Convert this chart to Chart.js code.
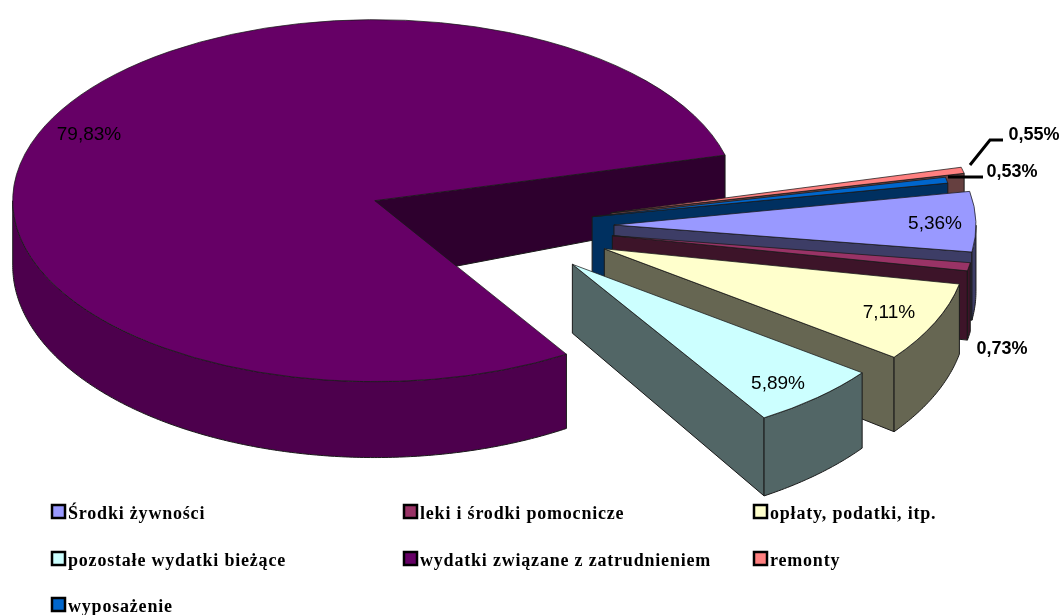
<!DOCTYPE html>
<html>
<head>
<meta charset="utf-8">
<style>
  html, body { margin: 0; padding: 0; background: #fff; }
  #wrap { position: relative; width: 1062px; height: 615px; }
</style>
</head>
<body>
<div id="wrap"><canvas id="myChart" width="1062" height="615"></canvas></div>
<script src="https://cdn.jsdelivr.net/npm/chart.js@4/dist/chart.umd.min.js"></script>
<script>
const categories = ['Środki żywności', 'leki i środki pomocnicze', 'opłaty, podatki, itp.', 'pozostałe wydatki bieżące', 'wydatki związane z zatrudnieniem', 'remonty', 'wyposażenie'];
const shares = [5.36, 0.73, 7.11, 5.89, 79.83, 0.55, 0.53];
const shareLabels = ['5,36%', '0,73%', '7,11%', '5,89%', '79,83%', '0,55%', '0,53%'];

const topColors = ['#9999ff', '#993366', '#ffffcc', '#ccffff', '#660066', '#ff8080', '#0066cc'];
const edgeColors = ['#3d3d66', '#3d1429', '#666652', '#526666', '#2e002e', '#664040', '#003060'];
const rimColors = ['#3d3d66', '#3d1429', '#666652', '#526666', '#4d004d', '#704038', '#003060'];
const explode = [112, 112, 112, 104, 137, 112, 92];

// screen spots of the percentage labels
const labelX = [935, 1002, 889, 778, 89, 1034, 1012];
const labelY = [224, 349, 313, 384, 135, 135, 172];
const labelFonts = ['19px', 'bold 18px', '19px', '19px', '19px', 'bold 18px', 'bold 18px'];
const legendX = [50, 402, 752];
const legendY = [511, 558, 604];

const squash = 0.5;
const drawOrder = [4, 5, 6, 0, 1, 2, 3];

// slices nearer the viewer look a bit taller
function down(p) {
  return { x: p.x, y: p.y + 65 + (p.y - 200) * 0.06 };
}
function rimPoint(c, r, a) {
  return { x: c.x + Math.cos(a) * r, y: c.y + Math.sin(a) * r * squash };
}
function fillPoly(ctx, pts, color) {
  ctx.beginPath();
  pts.forEach((p, i) => i ? ctx.lineTo(p.x, p.y) : ctx.moveTo(p.x, p.y));
  ctx.closePath();
  ctx.fillStyle = color;
  ctx.fill();
  ctx.stroke();
}
function drawEdge(ctx, c, r, a, color, i) {
  const p = rimPoint(c, r, a);
  // the big slice's inner wall narrows towards its rim
  if (i === 4) {
    fillPoly(ctx, [c, p, { x: p.x, y: p.y + 60 }, { x: c.x, y: c.y + 81 }], color);
  } else {
    fillPoly(ctx, [c, p, down(p), down(c)], color);
  }
}

const pieSides = {
  id: 'pieSides',
  afterDatasetsUpdate(chart) {
    // explode by moving the arcs, the offset option would also grow their radius
    chart.getDatasetMeta(0).data.forEach((arc, i) => {
      const mid = (arc.startAngle + arc.endAngle) / 2;
      arc.x += Math.cos(mid) * explode[i];
      arc.y += Math.sin(mid) * explode[i];
    });
  },
  beforeDatasetsDraw(chart) {
    const ctx = chart.ctx;
    const arcs = chart.getDatasetMeta(0).data;
    const cx = (chart.chartArea.left + chart.chartArea.right) / 2;
    const cy = (chart.chartArea.top + chart.chartArea.bottom) / 2;
    ctx.save();
    ctx.lineWidth = 1;
    ctx.strokeStyle = '#1a1a1a';
    drawOrder.forEach(i => {
      const arc = arcs[i];
      const c = { x: arc.x, y: cy + (arc.y - cy) * squash };
      const r = arc.outerRadius;
      if (Math.cos(arc.startAngle) < 0) drawEdge(ctx, c, r, arc.startAngle, edgeColors[i], i);
      if (Math.cos(arc.endAngle) > 0) drawEdge(ctx, c, r, arc.endAngle, edgeColors[i], i);
      const top = [];
      const n = Math.ceil((arc.endAngle - arc.startAngle) / 0.01);
      for (let k = 0; k <= n; k++) {
        const a = arc.startAngle + (arc.endAngle - arc.startAngle) * k / n;
        if (Math.sin(a) >= 0) top.push(rimPoint(c, r, a));
      }
      if (top.length > 1) {
        const low = top.slice().reverse().map(down);
        fillPoly(ctx, top.concat(low), rimColors[i]);
      }
    });
    ctx.restore();
    // flatten the library's own arcs into the ellipse
    ctx.save();
    ctx.translate(cx, cy);
    ctx.scale(1, squash);
    ctx.translate(-cx, -cy);
  },
  afterDatasetsDraw(chart) {
    const ctx = chart.ctx;
    ctx.restore();
    ctx.save();
    ctx.textAlign = 'center';
    ctx.textBaseline = 'middle';
    ctx.fillStyle = '#000';
    shareLabels.forEach((t, i) => {
      ctx.font = labelFonts[i] + ' "Liberation Sans"';
      ctx.fillText(t, labelX[i], labelY[i]);
    });
    // leader lines
    ctx.strokeStyle = '#000';
    ctx.lineWidth = 3;
    ctx.beginPath();
    ctx.moveTo(970, 165); ctx.lineTo(990, 140); ctx.lineTo(1003, 140);
    ctx.moveTo(948, 177); ctx.lineTo(983, 177);
    ctx.stroke();
    // legend, three columns
    ctx.textAlign = 'left';
    ctx.font = 'bold 18px "Liberation Serif"';
    ctx.letterSpacing = '0.8px';
    categories.forEach((name, i) => {
      const x = legendX[i % 3];
      const y = legendY[Math.floor(i / 3)];
      ctx.fillStyle = topColors[i];
      ctx.fillRect(x + 2, y - 6, 13, 13);
      ctx.strokeStyle = '#000';
      ctx.lineWidth = 2.5;
      ctx.strokeRect(x + 2, y - 6, 13, 13);
      ctx.fillStyle = '#000';
      ctx.fillText(name, x + 18, y + 3);
    });
    ctx.restore();
  }
};

new Chart(document.getElementById('myChart').getContext('2d'), {
  type: 'pie',
  data: {
    labels: categories,
    datasets: [{
      data: shares,
      backgroundColor: topColors,
      borderColor: '#1a1a1a',
      borderWidth: 1,
      radius: 362,
      cutout: '0%',
      rotation: 79.3,
      clip: false
    }]
  },
  options: {
    responsive: false,
    animation: false,
    layout: { padding: { left: 0, right: 58, top: 0, bottom: 163 } },
    plugins: {
      legend: { display: false },
      tooltip: { enabled: false }
    }
  },
  plugins: [pieSides]
});
</script>
</body>
</html>
